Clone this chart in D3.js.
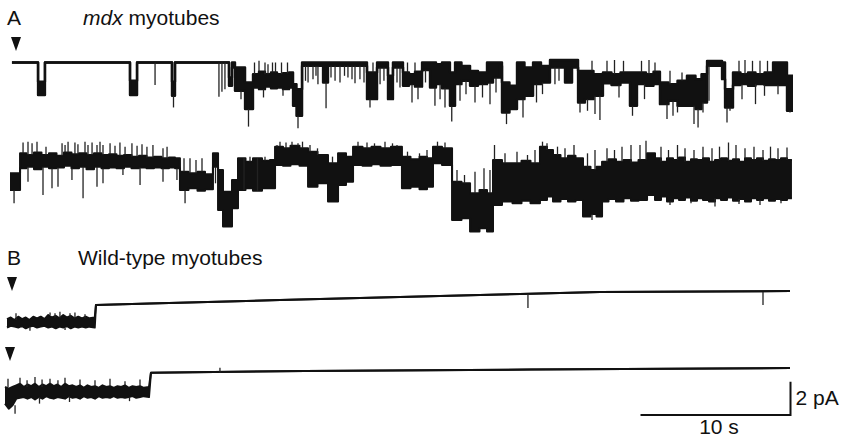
<!DOCTYPE html>
<html lang="en">
<head>
<meta charset="UTF-8">
<title>Single-channel recordings, mdx and wild-type myotubes</title>
<style>
  body { margin: 0; background: #fff; }
  #chart svg text {
    font-family: "Liberation Sans", Arial, sans-serif;
    font-size: 21px;
    fill: #111;
  }
</style>
</head>
<body>
<div id="chart"></div>
<script src="https://d3js.org/d3.v7.min.js"></script>
<script>
// each envelope row: [time (s), upper current (pA), lower current (pA)]
// each spike: [time (s), peak current (pA)] - brief openings / noise peaks
var a1Env = [
  [0.13, 0, 0], [1.87, -1.15, -1.95], [2.33, 0, 0], [8.0, -1.1, -1.95], [8.47, 0, 0],
  [10.8, -1.15, -2.0], [11.0, 0, 0], [14.6, -0.9, -1.4], [14.8, 0, -0.3], [15.0, -0.3, -1.7],
  [15.67, -1.2, -2.8], [16.2, -0.7, -1.5], [16.6, -0.55, -1.6], [17.0, -0.7, -1.45],
  [17.4, -0.6, -1.55], [17.8, -0.7, -1.5], [18.2, -0.65, -1.6], [18.6, -0.6, -1.5],
  [18.87, -1.3, -2.6], [19.1, -1.6, -3.2], [19.47, 0, -0.2], [20.87, 0, -1.2], [21.2, 0, -0.2],
  [23.8, -0.6, -2.2], [24.47, 0, -0.3], [25.2, -0.8, -2.2], [25.53, 0, -0.3], [26.2, -0.6, -1.4],
  [26.6, -0.7, -1.3], [27.0, -0.55, -1.45], [27.47, 0, -0.45], [28.0, 0, -1.5], [28.4, -0.1, -1.3],
  [28.8, 0, -1.55], [29.33, -0.6, -2.6], [29.67, 0, -1.3], [30.1, -0.2, -1.1], [30.67, -0.5, -1.4],
  [31.2, -0.6, -1.3], [31.8, 0, -1.2], [32.2, 0, -0.9], [32.67, 0, -0.2], [32.8, -1.2, -3.0],
  [33.3, -1.4, -2.8], [33.8, 0, -2.2], [34.3, -0.3, -2.0], [34.87, 0, -1.3], [35.4, -0.2, -1.2],
  [36.0, 0.15, -0.3], [37.0, 0.15, -1.2], [37.47, 0.15, -0.3], [37.87, -0.5, -2.4],
  [38.33, -0.5, -2.2], [38.9, -0.7, -2.0], [39.53, -0.6, -1.25], [40.1, -0.7, -1.35],
  [40.7, -0.6, -1.2], [41.33, -0.6, -2.6], [41.8, -0.6, -1.3], [42.4, -0.7, -1.4],
  [42.9, -0.55, -1.3], [43.33, -1.2, -2.5], [43.9, -1.3, -2.3], [44.5, -1.1, -2.6],
  [45.13, -0.8, -2.6], [45.7, -1.0, -2.8], [46.1, -0.7, -2.4], [46.47, 0.1, -0.2], [47.47, 0, -1.0],
  [47.67, -1.6, -2.7], [48.2, -0.6, -1.35], [48.7, -0.7, -1.3], [49.2, -0.6, -1.4],
  [49.7, -0.7, -1.3], [50.3, -0.6, -1.35], [50.87, 0, -1.35], [51.8, -0.8, -2.9], [52.2, -0.8, -2.9]
];
var a1Spikes = [
  [9.67, -1.35], [10.9, -2.7], [13.93, -2.05], [14.13, -1.75], [14.33, -1.6], [15.4, -2.2],
  [15.9, -3.85], [16.3, 0], [16.6, 0.1], [17.0, 0], [17.2, -0.1], [17.5, 0], [17.7, 0], [18.1, 0],
  [18.5, 0], [18.2, -2.0], [16.9, -2.1], [19.2, -3.95], [19.7, -1.1], [19.87, -1.2], [20.2, -1.0],
  [20.4, -0.8], [20.53, -1.3], [21.4, -0.9], [21.67, -1.1], [22.0, -1.2], [22.3, -0.8],
  [22.53, -0.9], [22.8, -1.0], [23.0, -1.25], [23.33, -1.0], [23.6, -1.2], [21.07, -2.75],
  [24.0, -2.7], [24.2, 0], [24.67, -1.3], [24.93, -1.1], [25.8, -1.2], [26.0, -1.5], [26.5, 0],
  [27.0, 0], [26.8, -2.4], [27.2, -2.2], [27.7, -1.2], [28.33, -2.6], [28.67, -2.2], [29.0, -2.7],
  [29.45, -3.55], [30.0, -2.3], [30.4, -1.9], [31.0, -2.4], [31.5, -2.1], [32.0, -2.5],
  [32.4, -1.8], [33.1, -3.7], [34.2, -3.3], [35.5, -1.9], [35.1, -2.4], [36.33, -1.3],
  [36.6, -1.1], [38.0, -3.0], [38.5, -2.9], [39.0, -3.1], [39.33, -3.45], [38.8, 0.1],
  [39.8, 0.1], [40.3, 0.15], [40.9, 0.1], [40.6, -2.1], [41.5, -3.2], [42.1, 0.1], [42.6, 0.15],
  [43.0, 0], [42.3, -2.2], [43.8, -3.4], [44.5, -3.0], [44.2, -3.2], [44.0, -0.5], [44.8, -0.6],
  [45.6, -3.7], [45.87, -3.9], [46.2, -3.0], [46.6, -2.3], [47.8, -3.6], [48.0, -2.9], [48.6, 0.1],
  [49.0, 0.15], [49.5, 0.1], [50.0, 0.1], [50.5, 0.1], [48.8, -2.2], [49.7, -2.5], [50.3, -2.0],
  [51.2, -1.9], [52.0, -3.0]
];

var a2Env = [
  [0, -1.4, -2.4], [0.67, -0.2, -1.1], [1.1, -0.3, -1.0], [1.6, -0.15, -1.15], [2.1, -0.3, -1.0],
  [2.6, -0.2, -1.1], [3.1, -0.35, -1.05], [3.6, -0.15, -0.95], [4.1, -0.25, -1.1], [4.6, -0.2, -1.0],
  [5.1, -0.3, -1.15], [5.6, -0.2, -1.0], [6.1, -0.3, -1.1], [6.6, -0.25, -1.05], [7.1, -0.35, -1.1],
  [7.6, -0.3, -1.0], [8.1, -0.4, -1.1], [8.6, -0.35, -1.05], [9.1, -0.45, -1.1], [9.6, -0.4, -1.05],
  [10.1, -0.5, -1.1], [10.6, -0.45, -1.05], [11.0, -0.5, -1.1], [11.33, -1.3, -2.4],
  [11.9, -1.4, -2.3], [12.5, -1.3, -2.45], [13.0, -1.45, -2.35], [13.53, -0.2, -1.0],
  [13.87, -1.2, -3.6], [14.2, -2.5, -4.6], [14.8, -1.8, -3.5], [15.2, -0.5, -2.4], [15.7, -0.7, -2.3],
  [16.2, -0.5, -2.45], [16.8, -0.65, -2.3], [17.33, -0.6, -2.3], [17.67, 0.2, -0.9],
  [18.2, 0.1, -0.95], [18.7, 0.25, -0.85], [19.3, 0.1, -0.95], [19.87, -0.1, -2.2],
  [20.5, -0.3, -2.0], [21.2, -0.8, -3.1], [21.87, -0.2, -2.1], [22.4, -0.4, -1.9],
  [22.87, 0.2, -0.9], [23.5, 0.1, -0.95], [24.1, 0.2, -0.85], [24.7, 0.1, -0.95], [25.4, 0.2, -0.9],
  [26.13, -0.4, -2.3], [26.7, -0.55, -2.2], [27.3, -0.4, -2.35], [27.8, -0.5, -2.2],
  [28.2, 0.2, -0.8], [28.8, 0.1, -0.9], [29.47, -1.9, -4.2], [30.1, -2.0, -4.1], [30.67, -2.6, -4.9],
  [31.3, -2.4, -4.7], [31.8, -2.6, -4.9], [32.2, -0.6, -3.3], [32.8, -0.8, -3.1], [33.5, -0.8, -3.2],
  [34.1, -0.65, -3.05], [34.7, -0.8, -3.2], [35.33, 0.2, -3.0], [35.8, 0.0, -2.8],
  [36.2, -0.3, -3.1], [36.7, -0.5, -2.95], [37.2, -0.35, -3.1], [37.7, -0.5, -3.0],
  [38.2, -1.0, -4.0], [38.7, -1.2, -3.85], [39.1, -1.0, -4.0], [39.47, -0.7, -3.1],
  [39.9, -0.55, -2.95], [40.4, -0.7, -3.1], [40.9, -0.6, -2.9], [41.4, -0.75, -3.05],
  [41.9, -0.6, -3.0], [42.47, -0.2, -2.7], [43.0, -0.5, -3.0], [43.4, -0.7, -2.8],
  [43.8, -0.5, -3.1], [44.2, -0.6, -2.9], [44.6, -0.45, -3.0], [45.0, -0.7, -2.85],
  [45.4, -0.55, -3.05], [45.8, -0.6, -2.9], [46.2, -0.5, -3.0], [46.6, -0.7, -3.1], [47.0, -0.6, -2.9],
  [47.4, -0.5, -3.0], [47.8, -0.65, -2.85], [48.2, -0.55, -3.05], [48.6, -0.7, -2.95],
  [49.0, -0.5, -3.1], [49.4, -0.6, -2.9], [49.8, -0.5, -3.0], [50.2, -0.65, -2.9],
  [50.6, -0.55, -3.05], [51.0, -0.6, -2.95], [51.4, -0.5, -3.0], [51.8, -0.6, -2.9], [52.13, -0.6, -2.9]
];
var a2Spikes = [
  [0.27, -3.2], [0.87, 0.45], [1.2, 0.5], [1.47, 0.4], [1.8, 0.5], [2.4, 0.2], [3.47, 0.4],
  [3.67, 0.3], [3.87, 0.5], [4.33, 0.45], [4.53, 0.35], [5.0, 0.5], [5.2, 0.3], [5.47, 0.45],
  [5.8, 0.3], [6.0, 0.5], [6.2, 0.3], [6.67, 0.4], [7.0, 0.25], [7.33, 0.45], [7.67, 0.2],
  [8.13, 0.4], [8.47, 0.25], [8.8, 0.35], [9.13, 0.2], [9.53, 0.3], [10.2, 0.1], [10.47, 0.2],
  [1.2, -1.9], [2.2, -2.7], [2.8, -2.3], [3.2, -2.2], [4.13, -1.8], [4.87, -2.9], [5.8, -2.2],
  [6.2, -2.0], [7.53, -1.5], [8.67, -2.1], [10.2, -1.9], [11.13, -1.8], [11.6, -0.5],
  [11.67, -3.2], [12.0, -0.5], [12.4, -0.6], [12.8, -0.5], [13.7, -2.0], [15.6, -0.5],
  [16.0, -0.4], [16.5, -0.5], [17.0, -0.4], [17.8, 0.3], [18.0, 0.5], [18.4, 0.45], [18.8, 0.5],
  [19.2, 0.4], [19.5, 0.5], [20.0, 0.3], [20.5, 0.1], [21.5, -0.4], [23.2, 0.5], [23.8, 0.45],
  [24.3, 0.4], [25.0, 0.5], [25.5, 0.4], [25.8, 0.3], [26.5, -0.1], [27.3, -0.2], [27.8, 0.0],
  [28.5, 0.5], [29.0, 0.45], [29.8, -1.2], [30.3, -1.5], [31.0, -1.3], [31.6, -1.1], [32.0, -1.2],
  [32.3, 0.3], [33.0, -0.2], [33.8, -0.1], [34.5, -0.3], [35.0, 0.0], [35.5, 0.5], [35.8, 0.4],
  [36.5, 0.2], [37.0, 0.1], [37.6, 0.3], [38.5, -0.2], [39.0, 0.0], [38.8, -4.2], [39.8, 0.1],
  [40.3, 0.0], [40.8, 0.2], [41.4, 0.3], [42.0, 0.3], [42.4, 0.55], [43.4, 0.2], [43.9, 0.0],
  [44.5, 0.3], [45.0, 0.1], [45.6, 0.0], [46.2, 0.2], [46.8, 0.1], [47.3, 0.2], [47.9, 0.45],
  [48.4, 0.3], [49.0, 0.1], [49.6, 0.2], [50.2, 0.0], [50.7, 0.2], [51.2, 0.1], [51.8, 0.15],
  [44.0, -3.3], [47.0, -3.4], [50.0, -3.3], [45.4, -3.2], [48.6, -3.25], [51.4, -3.2]
];

var b1Env = [
  [0, -0.85, -1.35], [0.25, -0.75, -1.25], [0.5, -0.9, -1.3], [0.75, -0.7, -1.35], [1.0, -0.85, -1.25],
  [1.25, -0.75, -1.4], [1.5, -0.9, -1.3], [1.75, -0.7, -1.25], [2.0, -0.8, -1.35], [2.25, -0.7, -1.3],
  [2.5, -0.85, -1.25], [2.75, -0.6, -1.35], [3.0, -0.75, -1.3], [3.25, -0.65, -1.4], [3.5, -0.8, -1.3],
  [3.75, -0.6, -1.35], [4.0, -0.75, -1.25], [4.25, -0.65, -1.4], [4.5, -0.8, -1.3], [4.75, -0.7, -1.35],
  [5.0, -0.8, -1.3], [5.25, -0.7, -1.35], [5.5, -0.8, -1.3], [5.85, -0.75, -1.35],
  [5.93, 0, 0], [9.53, 0.09, 0.09], [18.2, 0.3, 0.3], [26.2, 0.48, 0.48], [34.2, 0.66, 0.66],
  [39.53, 0.78, 0.78], [52.2, 0.84, 0.84]
];
var b1Spikes = [
  [0.6, -0.5], [1.53, -1.55], [2.87, -0.45], [3.2, -0.5], [3.53, -0.4], [3.87, -1.5],
  [4.2, -0.5], [4.53, -0.45], [5.2, -0.55], [34.73, -0.18], [50.4, 0.0]
];

var b2Env = [
  [0, -0.9, -1.9], [0.25, -1.0, -2.2], [0.5, -0.9, -2.0], [0.75, -0.8, -1.6], [1.0, -0.7, -1.55],
  [1.25, -0.9, -1.5], [1.5, -0.75, -1.6], [1.75, -0.85, -1.5], [2.0, -0.7, -1.65], [2.25, -0.9, -1.5],
  [2.5, -0.75, -1.6], [2.75, -0.85, -1.45], [3.0, -0.7, -1.55], [3.25, -0.85, -1.6], [3.5, -0.75, -1.5],
  [3.75, -0.9, -1.55], [4.0, -0.7, -1.6], [4.25, -0.85, -1.45], [4.5, -0.8, -1.55], [4.75, -0.9, -1.5],
  [5.0, -0.8, -1.6], [5.25, -0.95, -1.45], [5.5, -0.8, -1.55], [5.75, -0.9, -1.5], [6.0, -0.85, -1.6],
  [6.25, -0.95, -1.45], [6.5, -0.8, -1.55], [6.75, -0.9, -1.5], [7.0, -0.85, -1.55], [7.25, -0.95, -1.45],
  [7.5, -0.85, -1.55], [7.75, -0.9, -1.5], [8.0, -0.8, -1.55], [8.25, -0.95, -1.5], [8.5, -0.85, -1.45],
  [8.75, -0.9, -1.55], [9.0, -0.85, -1.5], [9.25, -0.95, -1.45], [9.6, -0.9, -1.5],
  [9.73, -0.04, -0.04], [20.0, 0.06, 0.06], [35.0, 0.15, 0.15], [52.33, 0.24, 0.24]
];
var b2Spikes = [
  [0.2, -0.4], [0.67, -2.5], [1.0, -0.35], [1.47, -0.5], [2.0, -0.3], [2.3, -1.9], [2.47, -0.45],
  [3.0, -0.4], [3.53, -0.5], [4.0, -0.35], [4.3, -1.8], [5.0, -0.45], [6.0, -0.5], [7.0, -0.4],
  [8.0, -0.55], [8.3, -1.75], [9.0, -0.45], [14.33, 0.25]
];

// calibration bar values
var barTime = 10, barCurrent = 2;

var w = 843, h = 439;

var svg = d3.select("#chart").append("svg")
    .attr("width", w)
    .attr("height", h);

// 10 s = 150 px, 2 pA = 33.3 px
var x = d3.scaleLinear().domain([0, barTime]).range([0, 150]);
var y = d3.scaleLinear().domain([0, barCurrent]).range([0, -33.3]);

var traces = [
  {env: a1Env, spikes: a1Spikes, x0: 10, y0: 62.5, curve: d3.curveStepAfter, sw: 2.4},
  {env: a2Env, spikes: a2Spikes, x0: 10, y0: 150, curve: d3.curveStepAfter, sw: 2},
  {env: b1Env, spikes: b1Spikes, x0: 7, y0: 305, curve: d3.curveLinear, sw: 2},
  {env: b2Env, spikes: b2Spikes, x0: 5, y0: 372, curve: d3.curveLinear, sw: 2}
];

var bisect = d3.bisector(function(d) { return d[0]; }).right;

traces.forEach(function(tr) {
  var g = svg.append("g").attr("transform", "translate(" + tr.x0 + "," + tr.y0 + ")");

  var area = d3.area()
      .curve(tr.curve)
      .x(function(d) { return x(d[0]); })
      .y0(function(d) { return y(d[2]); })
      .y1(function(d) { return y(d[1]); });
  var upper = d3.line().curve(tr.curve)
      .x(function(d) { return x(d[0]); })
      .y(function(d) { return y(d[1]); });
  var lower = d3.line().curve(tr.curve)
      .x(function(d) { return x(d[0]); })
      .y(function(d) { return y(d[2]); });

  g.append("path").attr("d", area(tr.env)).attr("fill", "#111");
  [upper, lower].forEach(function(fn) {
    g.append("path")
        .attr("d", fn(tr.env))
        .attr("fill", "none")
        .attr("stroke", "#111")
        .attr("stroke-width", tr.sw)
        .attr("stroke-linejoin", "round");
  });

  //Spikes start from the band edge nearest to them
  g.selectAll("line.spike")
      .data(tr.spikes)
      .enter()
      .append("line")
      .attr("class", "spike")
      .attr("x1", function(d) { return x(d[0]); })
      .attr("x2", function(d) { return x(d[0]); })
      .attr("y1", function(d) {
        var row = tr.env[Math.max(0, bisect(tr.env, d[0]) - 1)];
        return d[1] > row[1] ? y(row[1]) : y(row[2]);
      })
      .attr("y2", function(d) { return y(d[1]); })
      .attr("stroke", "#222")
      .attr("stroke-width", 1.3);
});

// stimulus arrowheads
var arrows = [[16, 37], [12, 277], [10, 347]];
svg.selectAll("path.arrow")
    .data(arrows)
    .enter()
    .append("path")
    .attr("class", "arrow")
    .attr("d", function(d) {
      return "M" + (d[0] - 5) + "," + d[1] + "L" + (d[0] + 5) + "," + d[1] + "L" + d[0] + "," + (d[1] + 14) + "Z";
    })
    .attr("fill", "#111");

// panel labels
svg.append("text").attr("x", 7).attr("y", 25).text("A");
var tA = svg.append("text").attr("x", 83).attr("y", 25);
tA.append("tspan").style("font-style", "italic").text("mdx");
tA.append("tspan").text(" myotubes");
svg.append("text").attr("x", 7).attr("y", 265).text("B");
svg.append("text").attr("x", 78).attr("y", 265).text("Wild-type myotubes");

// calibration bars
var cx = 790.5, cy = 415;
svg.append("path")
    .attr("d", "M" + (cx - x(barTime)) + "," + cy + "H" + cx + "V" + (cy + y(barCurrent)))
    .attr("fill", "none")
    .attr("stroke", "#111")
    .attr("stroke-width", 2);
svg.append("text").attr("x", cx + 5).attr("y", 405).text(barCurrent + " pA");
svg.append("text").attr("x", 719).attr("y", 434)
    .style("text-anchor", "middle")
    .text(barTime + " s");
</script>
</body>
</html>
